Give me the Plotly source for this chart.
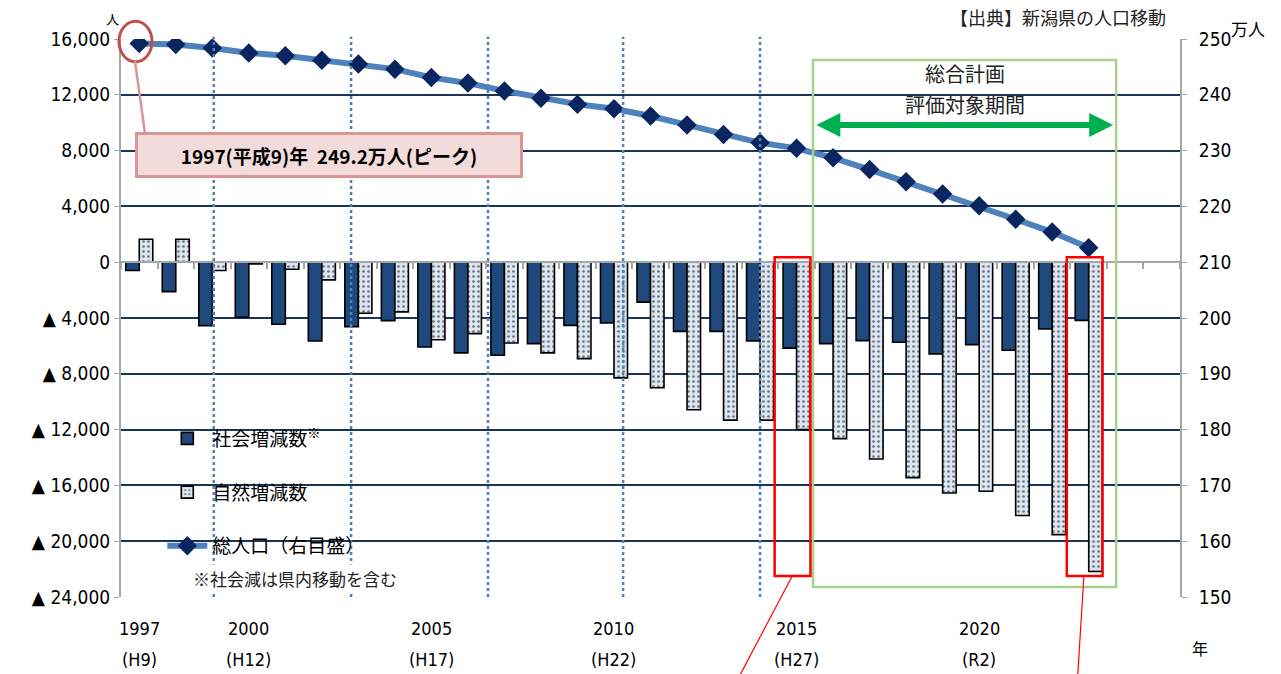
import plotly.graph_objects as go

# 新潟県の人口移動（社会増減・自然増減・総人口）
years = list(range(1997, 2024))
social = [-600, -2110, -4550, -3950, -4450, -5650, -4620, -4190, -6080, -6500,
          -6670, -5840, -4530, -4360, -2860, -4960, -4960, -5640, -6160, -5840,
          -5620, -5740, -6570, -5910, -6310, -4790, -4170]
natural = [1650, 1650, -600, -120, -500, -1270, -3660, -3560, -5560, -5120,
           -5790, -6500, -6910, -8290, -9000, -10580, -11320, -11320, -12000, -12650,
           -14110, -15440, -16550, -16420, -18160, -19530, -22170]
population = [249.2, 249.0, 248.4, 247.5, 247.0, 246.2, 245.5, 244.6, 243.1, 242.1,
              240.7, 239.4, 238.3, 237.5, 236.2, 234.6, 232.9, 231.4, 230.4, 228.7,
              226.6, 224.4, 222.2, 220.1, 217.7, 215.4, 212.6]

left_ticks = [16000, 12000, 8000, 4000, 0, -4000, -8000, -12000, -16000, -20000, -24000]
left_ticktext = ["16,000", "12,000", "8,000", "4,000", "0", "▲ 4,000", "▲ 8,000",
                 "▲ 12,000", "▲ 16,000", "▲ 20,000", "▲ 24,000"]
label_years = [1997, 2000, 2005, 2010, 2015, 2020]
era_labels = ["(H9)", "(H12)", "(H17)", "(H22)", "(H27)", "(R2)"]
period_marks = [1999.04, 2002.8, 2006.55, 2010.25, 2014.0]
plan_start, plan_end = 2015.45, 2023.75
highlight_years = [2015, 2023]

NUM_FONT = "Liberation Sans Narrow, DejaVu Sans Condensed, Noto Sans CJK JP, sans-serif"
JP_FONT = "Noto Sans CJK JP, sans-serif"
GRID = "#1B3557"
AXIS = "#A6A6A6"

fig = go.Figure()

fig.add_trace(go.Bar(
    x=years, y=social, name="社会増減数<sup>※</sup>",
    marker=dict(color="#1F497D", line=dict(color="black", width=1.6)),
    legendgroup="a",
))
fig.add_trace(go.Bar(
    x=years, y=natural, name="自然増減数",
    marker=dict(color="#DCE6F2", line=dict(color="black", width=1.6),
                pattern=dict(shape=".", fgcolor="black", bgcolor="#DCE6F2",
                             size=5, solidity=0.22)),
    legendgroup="b",
))
fig.add_trace(go.Scatter(
    x=years, y=population, name="総人口（右目盛）", yaxis="y2",
    mode="lines+markers",
    line=dict(color="#4F81BD", width=6),
    marker=dict(symbol="diamond", size=15, color="#0B2560"),
    legendgroup="c",
))
# zero-line axis carrier
fig.add_trace(go.Scatter(x=[years[0]], y=[None], xaxis="x2", showlegend=False,
                         hoverinfo="skip", mode="markers"))

shapes = []
# white panels hiding gridlines behind legend and plan caption
shapes.append(dict(type="rect", xref="paper", yref="paper", x0=0.0179, x1=0.2568,
                   y0=0.045, y1=0.328, fillcolor="white", line=dict(width=0),
                   layer="between"))
shapes.append(dict(type="rect", xref="paper", yref="paper", x0=0.698, x1=0.9056,
                   y0=0.864, y1=0.953, fillcolor="white", line=dict(width=0),
                   layer="between"))
# dotted period dividers
for xm in period_marks:
    shapes.append(dict(type="line", xref="x", yref="paper", x0=xm, x1=xm, y0=0, y1=1.004,
                       line=dict(color="#4F81BD", width=2.5, dash="dot"), layer="above"))
# plan evaluation period frame
shapes.append(dict(type="rect", xref="x", yref="y", x0=plan_start, x1=plan_end,
                   y0=-23280, y1=14490, line=dict(color="#A9D18E", width=2.5),
                   layer="above"))
# red frames around highlighted years
for yr in highlight_years:
    shapes.append(dict(type="rect", xref="x", yref="y", x0=yr - 0.6, x1=yr + 0.38,
                       y0=-22500, y1=350,
                       line=dict(color="#FF0000", width=2.5), layer="above"))
shapes.append(dict(type="line", xref="x", yref="paper", x0=2014.9, y0=0.04,
                   x1=2013.45, y1=-0.14, line=dict(color="#FF0000", width=1.2)))
shapes.append(dict(type="line", xref="x", yref="paper", x0=2022.87, y0=0.04,
                   x1=2022.7, y1=-0.14, line=dict(color="#FF0000", width=1.2)))
# peak marker circle and connector
shapes.append(dict(type="circle", xref="paper", yref="paper", x0=-0.0019, x1=0.0293,
                   y0=0.959, y1=1.032, line=dict(color="#C0504D", width=3),
                   layer="above"))
shapes.append(dict(type="line", xref="paper", yref="paper", x0=0.0132, y0=0.96,
                   x1=0.0227, y1=0.83, line=dict(color="#D99694", width=2.5)))


def note(x, y, text, size, xref="paper", yref="paper", **kw):
    d = dict(x=x, y=y, xref=xref, yref=yref, text=text, showarrow=False,
             xanchor=kw.pop("xanchor", "center"), yanchor=kw.pop("yanchor", "middle"),
             font=dict(family=kw.pop("family", JP_FONT), size=size,
                       color=kw.pop("color", "black"), weight=kw.pop("weight", "normal")))
    d.update(kw)
    return d


plan_mid = (plan_start + plan_end) / 2
annotations = []
for yr, era in zip(label_years, era_labels):
    annotations.append(note(yr, -0.0556, str(yr), 18, xref="x", family=NUM_FONT))
    annotations.append(note(yr, -0.1129, era, 18, xref="x", family=NUM_FONT))
annotations += [
    note(1.0189, -0.0914, "年", 16),
    note(1.0642, 1.0197, "万人", 17),
    note(-0.0076, 1.037, "人", 13),
    note(0.9887, 1.039, "【出典】新潟県の人口移動", 18, xanchor="right", color="#222"),
    note(0.1964, 0.7925, "1997(平成9)年  249.2万人(ピーク)", 19, weight="bold",
         width=380, height=38, bgcolor="#F2DCDB", bordercolor="#D99694", borderwidth=3),
    note(plan_mid, 0.9373, "総合計画", 20, xref="x", color="#222"),
    note(plan_mid, 0.8835, "評価対象期間", 20, xref="x", color="#222"),
    dict(x=plan_end - 0.08, y=9830, ax=plan_start + 0.05, ay=9830, xref="x", yref="y",
         axref="x", ayref="y", text="", showarrow=True, arrowside="end+start",
         arrowhead=2, arrowsize=0.8, arrowwidth=6, arrowcolor="#00B050"),
    note(0.1643, 0.0323, "※社会減は県内移動を含む", 17, bgcolor="white", color="#222"),
]

fig.update_layout(
    width=1281, height=674,
    margin=dict(l=121, r=101, t=39, b=77),
    paper_bgcolor="white", plot_bgcolor="white",
    barmode="group", bargap=0.26, bargroupgap=0,
    showlegend=True,
    legend=dict(x=0.039, y=0.318, xanchor="left", yanchor="top",
                bgcolor="rgba(0,0,0,0)", traceorder="grouped", tracegroupgap=26,
                itemwidth=40, font=dict(family=JP_FONT, size=19, color="black")),
    xaxis=dict(range=[1996.5, 2025.5], showticklabels=False, showgrid=False,
               showline=False, ticks="", zeroline=False),
    xaxis2=dict(overlaying="x", anchor="free", position=0.6, range=[1996.5, 2025.5],
                tickvals=[y - 0.5 for y in range(1997, 2027)], ticks="outside",
                ticklen=6, tickwidth=1.5, tickcolor=AXIS, showline=True,
                linecolor=AXIS, linewidth=2, showticklabels=False, showgrid=False,
                zeroline=False),
    yaxis=dict(range=[-24000, 16000], tickvals=left_ticks, ticktext=left_ticktext,
               showgrid=True, gridcolor=GRID, gridwidth=2, zeroline=False,
               showline=True, linecolor=AXIS, linewidth=2, ticks="outside",
               ticklen=5, tickcolor=AXIS,
               tickfont=dict(family=NUM_FONT, size=19, color="black")),
    yaxis2=dict(range=[150, 250], dtick=10, overlaying="y", side="right",
                showgrid=False, zeroline=False, showline=True, linecolor=AXIS,
                linewidth=2, ticks="outside", ticklen=5, tickcolor=AXIS,
                ticklabelstandoff=8,
                tickfont=dict(family=NUM_FONT, size=19, color="black")),
    shapes=shapes, annotations=annotations,
)

fig.write_html("out.html")
